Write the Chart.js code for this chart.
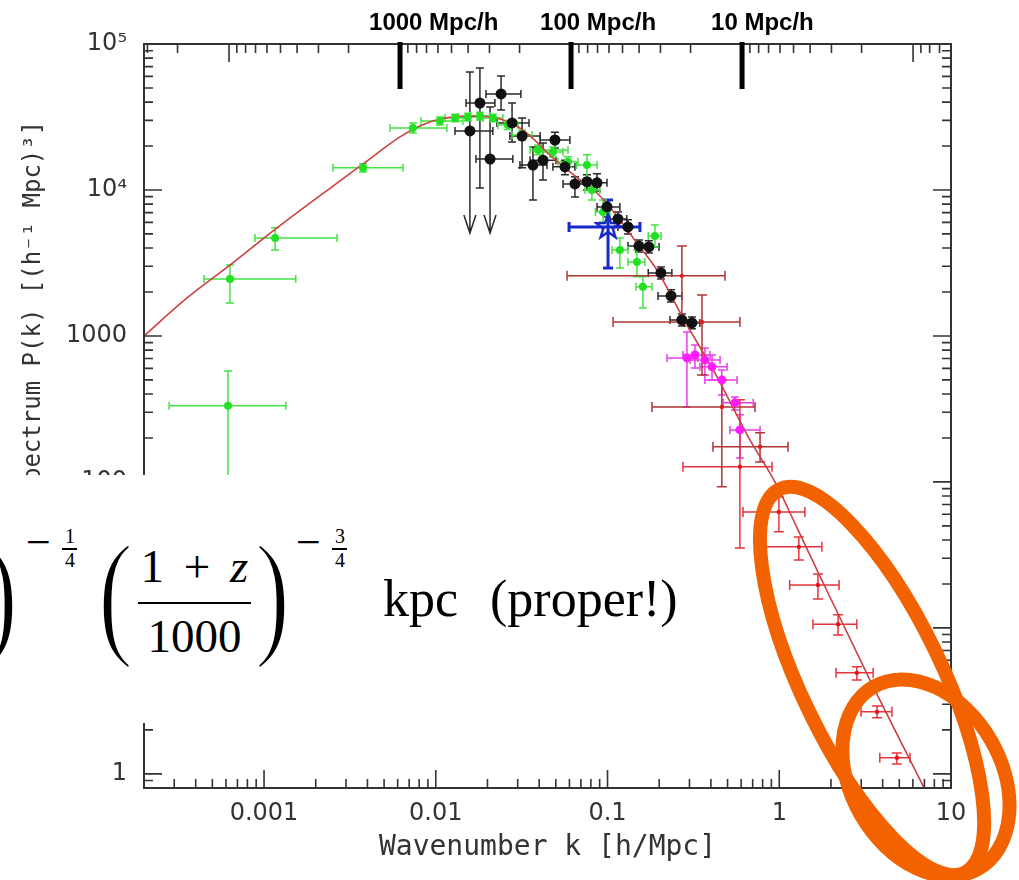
<!DOCTYPE html>
<html>
<head>
<meta charset="utf-8">
<script src="https://cdn.jsdelivr.net/npm/chart.js@4.4.1/dist/chart.umd.min.js"></script>
<style>
  body { margin: 0; background: #fff; }
  #wrap { position: relative; width: 1019px; height: 880px; }
  #box { position: absolute; left: 0; top: 475px; width: 712px; height: 248px; background: #fff; overflow: hidden;
         font-family: "Liberation Serif", serif; color: #000; }
  #box span, #box div { position: absolute; line-height: 1; white-space: nowrap; }
  .big { font-size: 140px; transform: scaleX(0.75); transform-origin: 0 0; -webkit-text-stroke: 3px #fff; }
  .sup { font-size: 44px; }
  .sm { font-size: 20px; width: 20px; text-align: center; }
  .num { font-size: 47px; text-align: center; }
  .txt { font-size: 52px; }
  .bar { background: #000; }
  .op { position: static !important; margin: 0 0.42em; }
</style>
</head>
<body>
<div id="wrap">
  <canvas id="powerChart" width="1019" height="880"></canvas>
  <div id="box">
    <span class="big" style="left:-17px;top:48px">)</span>
    <span class="sup" style="left:26px;top:46px">−</span>
    <span class="sm" style="left:60px;top:51px">1</span>
    <div class="bar" style="left:62px;top:73px;width:15px;height:1.5px"></div>
    <span class="sm" style="left:60px;top:75px">4</span>
    <span class="big" style="left:98px;top:48px">(</span>
    <span class="num" style="left:138px;top:68px;width:113px">1<span class="op">+</span><i>z</i></span>
    <div class="bar" style="left:138px;top:127px;width:113px;height:2px"></div>
    <span class="num" style="left:138px;top:138px;width:113px">1000</span>
    <span class="big" style="left:255px;top:48px">)</span>
    <span class="sup" style="left:296px;top:46px">−</span>
    <span class="sm" style="left:330px;top:51px">3</span>
    <div class="bar" style="left:332px;top:73px;width:15px;height:1.5px"></div>
    <span class="sm" style="left:330px;top:75px">4</span>
    <span class="txt" style="left:383px;top:98px">kpc</span>
    <span class="txt" style="left:490px;top:98px">(proper!)</span>
  </div>
</div>
<script>
// axis ranges
const kMin = 2e-4, kMax = 10;
const pMin = 0.8, pMax = 1e5;

// tick labels
const xTickValues = [0.001, 0.01, 0.1, 1, 10];
const xTickLabels = ['0.001', '0.01', '0.1', '1', '10'];
const yTickValues = [1, 10, 100, 1000, 1e4, 1e5];
const yTickLabels = ['1', '10', '100', '1000', '10⁴', '10⁵'];

// scale markers on top axis (Mpc/h)
const scaleMarks = [1000, 100, 10];
const scaleLabels = ['1000 Mpc/h', '100 Mpc/h', '10 Mpc/h'];

// theory curve
const theoryK = [2.0e-4, 3.56e-4, 6.33e-4, 1.19e-3, 2.52e-3, 3.77e-3, 6.19e-3, 8.09e-3, 0.01057, 0.0158, 0.0207,
  0.0278, 0.0354, 0.0462, 0.0646, 0.0903, 0.118, 0.148, 0.194, 0.275, 0.434, 0.675, 0.944, 1.27, 1.66, 3.37, 7.05];
const theoryP = [1000, 1820, 3060, 5500, 10640, 15070, 23100, 27400, 30600, 32100, 31600,
  28500, 23500, 17300, 12500, 9100, 6240, 4340, 2830, 1330, 524, 194, 100, 48.4, 24.9, 4.40, 0.78];

// rows: k, P, kLo, kHi, PLo, PHi, upper-limit flag
const green = [
  [6.17e-4, 332, 2.80e-4, 1.34e-3, 40, 575],
  [6.33e-4, 2460, 4.47e-4, 1.53e-3, 1680, 3060],
  [1.16e-3, 4690, 8.85e-4, 2.66e-3, 3880, 5500],
  [3.77e-3, 14200, 2.52e-3, 6.44e-3, 13300, 15100],
  [7.36e-3, 26600, 5.41e-3, 0.0116, 24600, 28800],
  [0.01057, 29700, 8.2e-3, 0.0144, 27900, 31600],
  [0.01294, 31100, 0.01132, 0.0152, 29300, 33000],
  [0.01538, 31600, 0.01345, 0.01762, 29800, 33500],
  [0.01807, 32100, 0.0158, 0.0207, 30200, 34100],
  [0.0215, 31100, 0.01884, 0.0246, 29300, 33000],
  [0.0263, 27900, 0.0230, 0.0301, 26000, 29900],
  [0.0318, 23800, 0.0278, 0.0363, 22000, 25700],
  [0.0394, 18800, 0.0354, 0.0589, 17400, 20300],
  [0.0481, 18200, 0.0421, 0.0551, 16800, 19700],
  [0.0589, 15600, 0.0514, 0.0673, 14400, 16900],
  [0.0759, 14800, 0.0660, 0.0869, 12100, 17400],
  [0.0811, 10000, 0.0738, 0.0903, 8550, 11700],
  [0.0942, 7060, 0.085, 0.1033, 6040, 8550],
  [0.118, 3880, 0.1062, 0.1315, 2920, 4690],
  [0.1483, 3210, 0.1315, 0.165, 2540, 3880],
  [0.1607, 2170, 0.1466, 0.1815, 1556, 2540],
  [0.1888, 4840, 0.1726, 0.205, 4070, 5760]
];
const black = [
  [0.0158, 25400, 0.01294, 0.0215, 5070, 64300, 1],
  [0.01807, 39400, 0.0150, 0.0221, 10300, 68500],
  [0.0207, 16300, 0.01714, 0.0281, 5070, 37000, 1],
  [0.0240, 45500, 0.0196, 0.0313, 35300, 60400],
  [0.0278, 28800, 0.0227, 0.0349, 21300, 39400],
  [0.0318, 23400, 0.0270, 0.0405, 14200, 31100],
  [0.0368, 14800, 0.0309, 0.0444, 8550, 19700],
  [0.0421, 16000, 0.0354, 0.0501, 11700, 21000],
  [0.0494, 22000, 0.0405, 0.0604, 19400, 24900],
  [0.0565, 14400, 0.0481, 0.0646, 12700, 16000],
  [0.0646, 11000, 0.0551, 0.0759, 8950, 12300],
  [0.0759, 11400, 0.0646, 0.0869, 10000, 12700],
  [0.0869, 11200, 0.0759, 0.0993, 9840, 12900],
  [0.0993, 7650, 0.0869, 0.118, 6530, 8550],
  [0.115, 6330, 0.1007, 0.1294, 5670, 7060],
  [0.1315, 5580, 0.115, 0.1545, 5000, 6240],
  [0.1524, 4130, 0.1315, 0.170, 3760, 4550],
  [0.174, 4070, 0.1545, 0.1995, 3700, 4480],
  [0.2046, 2700, 0.1726, 0.237, 2460, 2970],
  [0.2344, 1880, 0.1968, 0.271, 1710, 2070],
  [0.271, 1288, 0.231, 0.310, 1170, 1416],
  [0.310, 1228, 0.279, 0.345, 1120, 1350]
];
const blue = [
  [0.1007, 5580, 0.0597, 0.1545, 2920, 8550]
];
const magenta = [
  [0.290, 707, 0.222, 0.336, 326, 1064],
  [0.323, 741, 0.275, 0.395, 604, 868],
  [0.369, 685, 0.302, 0.452, 541, 828],
  [0.406, 614, 0.345, 0.497, 500, 741],
  [0.463, 500, 0.369, 0.568, 394, 585],
  [0.552, 348, 0.471, 0.705, 311, 382],
  [0.590, 227, 0.516, 0.773, 146, 288]
];
const darkRed = [
  [0.271, 2580, 0.0581, 0.483, 1290, 4130],
  [0.355, 1247, 0.1077, 0.590, 541, 1910],
  [0.463, 326, 0.1815, 0.723, 92.5, 500],
  [0.773, 174, 0.411, 1.124, 137, 217]
];
const red = [
  [0.590, 127, 0.275, 0.908, 35.3, 365],
  [0.995, 62.3, 0.615, 1.41, 45.5, 78.9],
  [1.30, 35.9, 0.836, 1.77, 29.2, 42.0],
  [1.68, 19.7, 1.15, 2.23, 15.8, 23.4],
  [2.20, 10.6, 1.57, 2.83, 8.95, 12.3],
  [2.83, 4.92, 2.14, 3.52, 4.40, 5.41],
  [3.71, 2.66, 2.99, 4.53, 2.42, 2.92],
  [4.84, 1.29, 3.85, 5.77, 1.17, 1.39]
];

// orange rings drawn over the plot (anchored at k, P; sizes in px)
const rings = [
  { k: 3.47, p: 4.33, rx: 213, ry: 70, rot: 64.2 },
  { k: 7.15, p: 0.94, rx: 105, ry: 75, rot: 60 }
];

function starMarker(color) {
  const c = document.createElement('canvas');
  c.width = c.height = 28;
  const g = c.getContext('2d');
  g.strokeStyle = color; g.lineWidth = 2.5; g.lineJoin = 'miter';
  g.beginPath();
  for (let i = 0; i < 10; i++) {
    const r = i % 2 ? 5 : 12.5;
    const a = -Math.PI / 2 + i * Math.PI / 5;
    g.lineTo(14 + r * Math.cos(a), 14 + r * Math.sin(a));
  }
  g.closePath(); g.stroke();
  return c;
}

function logMarks(lo, hi) {
  const out = [];
  for (let e = Math.floor(Math.log10(lo)); e <= Math.ceil(Math.log10(hi)); e++) {
    for (let m = 1; m <= 9; m++) {
      const v = m * Math.pow(10, e);
      if (v >= lo * 0.999 && v <= hi * 1.001) out.push({ v, major: m === 1 });
    }
  }
  return out;
}

function series(rows, opts) {
  return Object.assign({
    data: rows.map(r => ({ x: r[0], y: r[1] })),
    rows: rows,
    showLine: false,
    pointBorderWidth: 0
  }, opts);
}

const errorBars = {
  id: 'errorBars',
  beforeDatasetsDraw(chart) {
    const { ctx, chartArea: a, scales: { x, y } } = chart;
    ctx.save();
    ctx.beginPath();
    ctx.rect(a.left, a.top, a.right - a.left, a.bottom - a.top);
    ctx.clip();
    chart.data.datasets.forEach(ds => {
      if (!ds.rows) return;
      ctx.strokeStyle = ds.errColor;
      ctx.lineWidth = ds.errWidth || 1.5;
      const c = ds.cap || 4;
      ds.rows.forEach(r => {
        const px = x.getPixelForValue(r[0]), py = y.getPixelForValue(r[1]);
        const x0 = x.getPixelForValue(r[2]), x1 = x.getPixelForValue(r[3]);
        const y0 = y.getPixelForValue(r[4]), y1 = y.getPixelForValue(r[5]);
        ctx.beginPath();
        ctx.moveTo(x0, py); ctx.lineTo(x1, py);
        ctx.moveTo(x0, py - c); ctx.lineTo(x0, py + c);
        ctx.moveTo(x1, py - c); ctx.lineTo(x1, py + c);
        ctx.moveTo(px, y1); ctx.lineTo(px, y0);
        ctx.moveTo(px - c, y1); ctx.lineTo(px + c, y1);
        if (r[6]) {
          ctx.moveTo(px - 6, y0 - 18); ctx.lineTo(px, y0); ctx.lineTo(px + 6, y0 - 18);
        } else {
          ctx.moveTo(px - c, y0); ctx.lineTo(px + c, y0);
        }
        ctx.stroke();
      });
    });
    ctx.restore();
  }
};

const frame = {
  id: 'frame',
  afterDraw(chart) {
    const { ctx, chartArea: a, scales: { x, x2, y } } = chart;
    ctx.save();
    ctx.strokeStyle = '#333';
    ctx.lineWidth = 1.6;
    ctx.beginPath();
    logMarks(kMin, kMax).forEach(t => {
      const px = x.getPixelForValue(t.v), len = t.major ? 18 : 9;
      ctx.moveTo(px, a.bottom); ctx.lineTo(px, a.bottom - len);
    });
    logMarks(2 * Math.PI / kMax, 2 * Math.PI / kMin).forEach(t => {
      const px = x2.getPixelForValue(t.v), len = t.major ? 18 : 9;
      ctx.moveTo(px, a.top); ctx.lineTo(px, a.top + len);
    });
    logMarks(pMin, pMax).forEach(t => {
      const py = y.getPixelForValue(t.v), len = t.major ? 18 : 9;
      ctx.moveTo(a.left, py); ctx.lineTo(a.left + len, py);
      ctx.moveTo(a.right, py); ctx.lineTo(a.right - len, py);
    });
    ctx.stroke();
    ctx.lineWidth = 2;
    ctx.strokeRect(a.left, a.top, a.right - a.left, a.bottom - a.top);

    // Mpc/h markers
    ctx.fillStyle = '#000';
    ctx.font = 'bold 24px "Liberation Sans"';
    ctx.textAlign = 'left';
    ctx.textBaseline = 'alphabetic';
    scaleMarks.forEach((m, i) => {
      const px = x2.getPixelForValue(m);
      ctx.fillRect(px - 2.5, a.top - 2, 5, 47);
      ctx.fillText(scaleLabels[i], px - 31, 30);
    });

    // y title
    ctx.translate(34, 352);
    ctx.rotate(-Math.PI / 2);
    ctx.textAlign = 'center';
    ctx.textBaseline = 'middle';
    ctx.font = '24px "DejaVu Sans Mono"';
    ctx.fillStyle = '#333';
    ctx.fillText('Power Spectrum P(k) [(h⁻¹ Mpc)³]', 0, 0);
    ctx.setTransform(1, 0, 0, 1, 0, 0);

    // orange rings
    ctx.strokeStyle = '#f26200';
    ctx.lineWidth = 14;
    rings.forEach(r => {
      ctx.beginPath();
      ctx.ellipse(x.getPixelForValue(r.k), y.getPixelForValue(r.p), r.rx, r.ry, r.rot * Math.PI / 180, 0, 2 * Math.PI);
      ctx.stroke();
    });
    ctx.restore();
  }
};

const ctx = document.getElementById('powerChart').getContext('2d');
new Chart(ctx, {
  type: 'scatter',
  data: {
    datasets: [
      series(black, { pointRadius: 5.5, pointBackgroundColor: '#111', errColor: '#2a2a2a', cap: 4 }),
      series(blue, { pointStyle: starMarker('#1a28c8'), errColor: '#1a28c8', errWidth: 3, cap: 5 }),
      series(magenta, { pointRadius: 4.5, pointBackgroundColor: '#ff1cff', errColor: '#ec3cec', cap: 4 }),
      series(green, { pointRadius: 4, pointBackgroundColor: '#22e022', errColor: '#44e444', cap: 4 }),
      series(red, { pointRadius: 2.2, pointBackgroundColor: '#e8101c', errColor: '#e8343c', cap: 5 }),
      series(darkRed, { pointRadius: 2.2, pointBackgroundColor: '#e01c1c', errColor: '#b23434', cap: 5 }),
      {
        data: theoryK.map((k, i) => ({ x: k, y: theoryP[i] })),
        showLine: true,
        pointRadius: 0,
        borderColor: '#cc4040',
        borderWidth: 1.6,
        cubicInterpolationMode: 'monotone'
      }
    ]
  },
  options: {
    responsive: false,
    animation: false,
    devicePixelRatio: 1,
    layout: { padding: { left: 0, right: 68, top: 44, bottom: 0 } },
    plugins: { legend: { display: false }, tooltip: { enabled: false } },
    scales: {
      x: {
        type: 'logarithmic',
        position: 'bottom',
        min: kMin,
        max: kMax,
        afterBuildTicks: s => { s.ticks = xTickValues.map(v => ({ value: v })); },
        afterFit: s => { s.height = 92; },
        grid: { display: false, drawTicks: false },
        border: { display: false },
        ticks: {
          autoSkip: false,
          maxRotation: 0,
          padding: 11,
          color: '#333',
          font: { family: 'DejaVu Sans', size: 24 },
          callback: v => xTickLabels[xTickValues.indexOf(v)]
        },
        title: {
          display: true,
          text: 'Wavenumber k [h/Mpc]',
          color: '#333',
          font: { family: 'DejaVu Sans Mono', size: 28 },
          padding: { top: 0, bottom: 15 }
        }
      },
      x2: {
        type: 'logarithmic',
        position: 'top',
        reverse: true,
        min: 2 * Math.PI / kMax,
        max: 2 * Math.PI / kMin,
        grid: { display: false, drawTicks: false },
        border: { display: false },
        ticks: { display: false }
      },
      y: {
        type: 'logarithmic',
        min: pMin,
        max: pMax,
        afterBuildTicks: s => { s.ticks = yTickValues.map(v => ({ value: v })); },
        afterFit: s => { s.width = 144; },
        grid: { display: false, drawTicks: false },
        border: { display: false },
        ticks: {
          autoSkip: false,
          padding: 17,
          color: '#333',
          font: { family: 'DejaVu Sans', size: 24 },
          callback: v => yTickLabels[yTickValues.indexOf(v)]
        }
      }
    }
  },
  plugins: [errorBars, frame]
});
</script>
</body>
</html>
